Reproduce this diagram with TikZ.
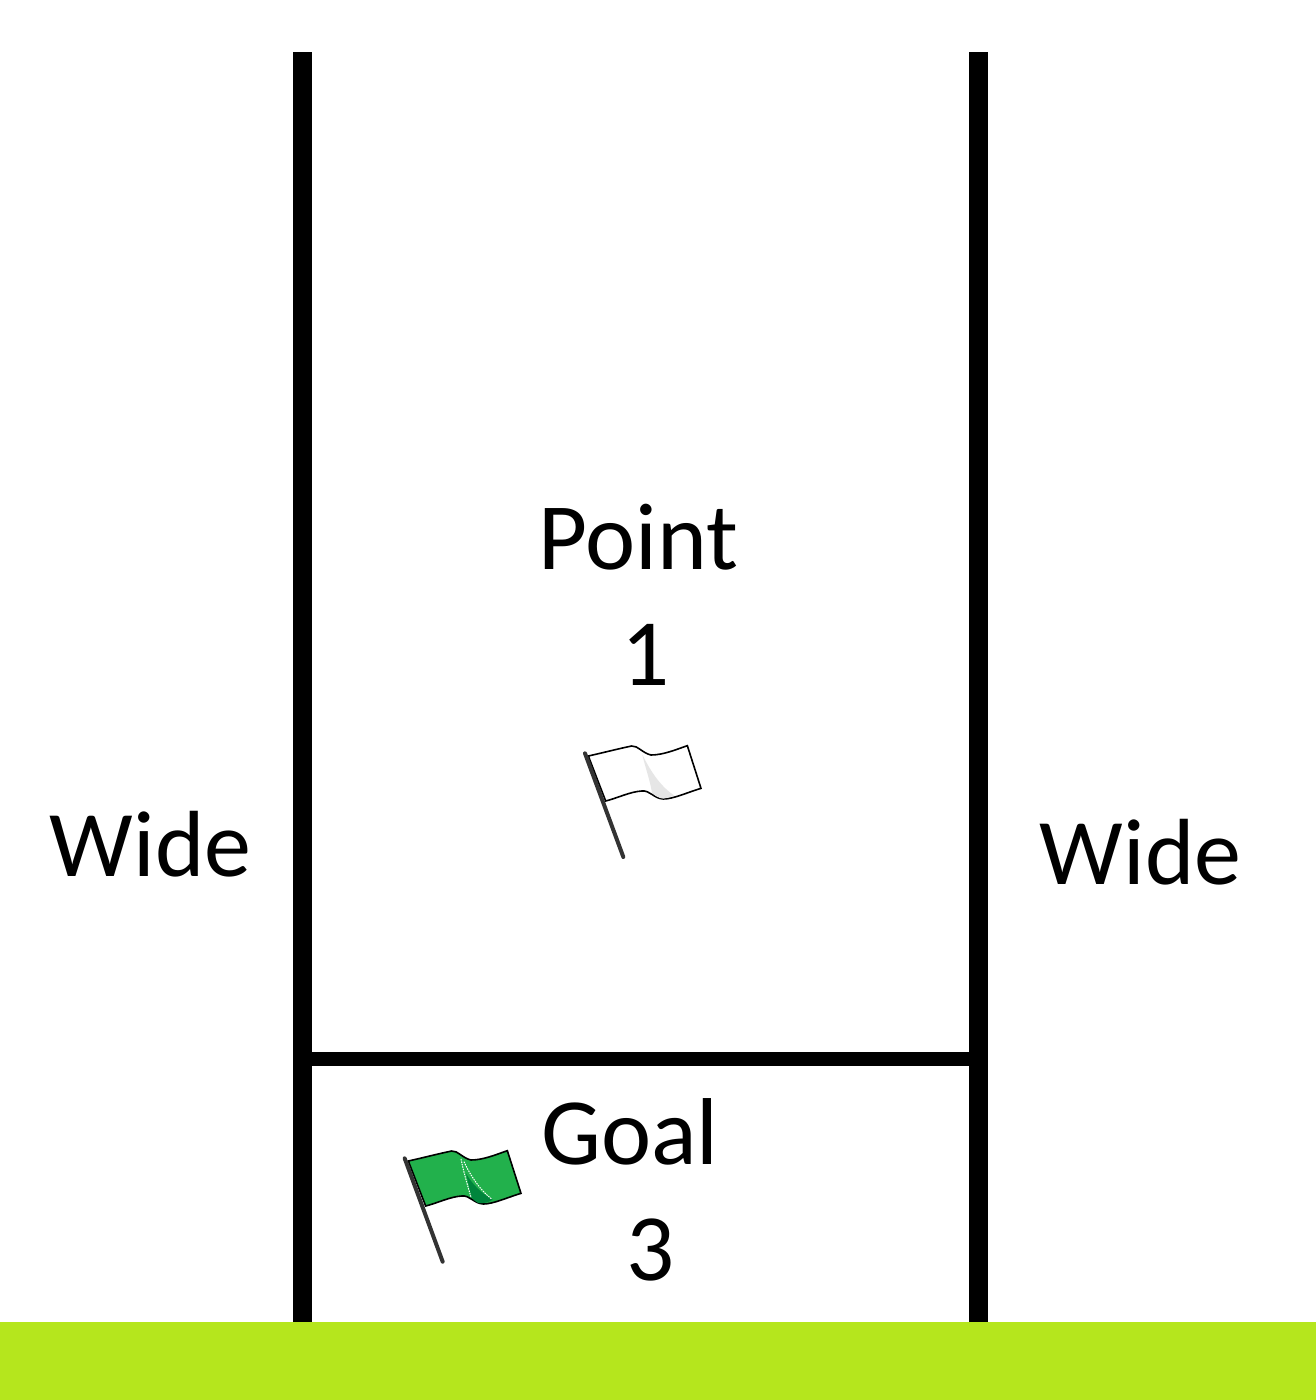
\documentclass[tikz,border=0pt]{standalone}
\usepackage{fontspec}
\setmainfont{Carlito}
\definecolor{turf}{HTML}{B5E61D}
\definecolor{flaggreen}{HTML}{22B14C}
\definecolor{flagdark}{HTML}{00853C}
\definecolor{foldgrey}{HTML}{E6E6E6}
\definecolor{polegrey}{HTML}{333333}
\tikzset{
  x=1pt,y=-1pt,
  label text/.style={font=\fontsize{95}{95}\selectfont,text=black,anchor=base,inner sep=0pt,outer sep=0pt},
  wide text/.style={label text,font=\fontsize{94}{94}\selectfont},
  post/.style={line width=19pt,black},
  bar/.style={line width=14pt,black},
  flag cloth/.style={draw=black,line width=1.6pt},
  flag pole/.style={polegrey,line width=4pt,line cap=round},
}
\newcommand{\flagcloth}{(55,78) .. controls (100,68) and (150,55) .. (185,48)
      .. controls (205,47) and (215,68) .. (243,75)
      .. controls (280,75) and (320,58) .. (352,47)
      -- (393,175)
      .. controls (350,188) and (310,207) .. (280,207)
      .. controls (250,205) and (240,180) .. (215,183)
      .. controls (180,185) and (140,205) .. (107,213) -- cycle}
\begin{document}
\begin{tikzpicture}
\useasboundingbox (0,0) rectangle (1316,1400);
\fill[white] (0,0) rectangle (1316,1400);
\coordinate (leftTop) at (302.5,52);
\coordinate (leftFoot) at (302.5,1322);
\coordinate (rightTop) at (978.5,52);
\coordinate (rightFoot) at (978.5,1322);
\coordinate (barLeft) at (302.5,1059);
\coordinate (barRight) at (978.5,1059);
\draw[post] (leftTop) -- (leftFoot);
\draw[post] (rightTop) -- (rightFoot);
\draw[bar] (barLeft) -- (barRight);
\fill[turf] (0,1322) rectangle (1316,1400);
\node[label text] (point) at (638,569) {Point};
\node[label text] (one) at (646,685) {1};
\node[wide text] (wideL) at (150.5,876) {Wide};
\node[wide text] (wideR) at (1140.5,884) {Wide};
\node[label text] (goal) at (630,1164) {Goal};
\node[label text] (three) at (651,1280) {3};
% white flag
\begin{scope}[shift={(570,730)},scale=1/3]
  \path[flag cloth,fill=white] \flagcloth;
  \fill[foldgrey] (217,74) .. controls (235,110) and (265,165) .. (312,196)
    .. controls (300,201) and (290,205) .. (280,206)
    .. controls (265,204) and (255,197) .. (246,188)
    .. controls (240,150) and (225,110) .. (217,74) -- cycle;
  \draw[flag pole] (45,70) -- (160,381);
\end{scope}
% green flag
\begin{scope}[shift={(390,1135)},scale=1/3]
  \path[flag cloth,fill=flaggreen] \flagcloth;
  \fill[flagdark] (228,115) .. controls (248,150) and (275,175) .. (308,194)
    .. controls (295,202) and (280,206) .. (265,204)
    .. controls (255,199) and (248,192) .. (243,185)
    .. controls (240,165) and (234,140) .. (228,115) -- cycle;
  \draw[white,line width=1pt,dash pattern=on 1.5pt off 1pt] (213,72) .. controls (222,115) and (232,150) .. (243,186);
  \draw[white,line width=1pt,dash pattern=on 1.5pt off 1pt] (222,80) .. controls (240,120) and (270,165) .. (306,193);
  \draw[flag pole] (44,70) -- (158,380);
\end{scope}
\end{tikzpicture}
\end{document}
